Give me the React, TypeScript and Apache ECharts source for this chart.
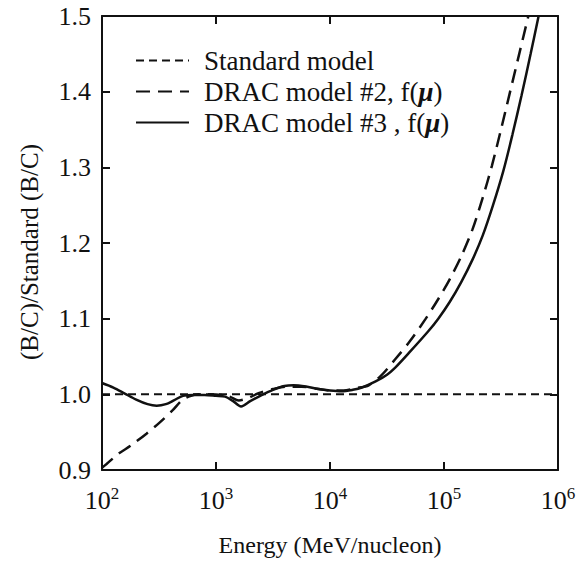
import React, { useEffect, useRef } from "react";
import * as echarts from "echarts";

// ---- data (x values are log10 of energy in MeV/nucleon) ----
const xTickExponents = [2, 3, 4, 5, 6];
const yTickLabels = ["0.9", "1.0", "1.1", "1.2", "1.3", "1.4", "1.5"];

const seriesNames = ["Standard model", "DRAC model #2, f(μ)", "DRAC model #3 , f(μ)"];

const standardLogE = [2, 6];
const standardRatio = [1.0, 1.0];

const drac2LogE = [
  2.0, 2.04, 2.15, 2.25, 2.39, 2.5, 2.62, 2.7, 2.76, 2.85, 2.95, 3.05, 3.12, 3.2, 3.28, 3.38,
  3.5, 3.62, 3.75, 3.9, 4.0, 4.12, 4.22, 4.34, 4.45, 4.57, 4.7, 4.84, 4.95, 5.05, 5.15, 5.25,
  5.34, 5.42, 5.5, 5.58, 5.66, 5.74,
];
const drac2Ratio = [
  0.903, 0.908, 0.922, 0.932, 0.948, 0.962, 0.979, 0.992, 0.997, 1.0, 1.0, 0.999, 0.997, 0.992,
  0.995, 1.002, 1.007, 1.01, 1.01, 1.007, 1.005, 1.005, 1.008, 1.012, 1.025, 1.046, 1.07, 1.1,
  1.126, 1.152, 1.182, 1.218, 1.26, 1.302, 1.35, 1.4, 1.45, 1.5,
];

const drac3LogE = [
  2.0, 2.1, 2.2, 2.3, 2.4, 2.48, 2.56, 2.63, 2.71, 2.8, 2.9, 3.0, 3.08, 3.15, 3.22, 3.3, 3.4,
  3.5, 3.6, 3.68, 3.8, 3.9, 4.0, 4.1, 4.2, 4.28, 4.4, 4.5, 4.57, 4.7, 4.86, 4.95, 5.05, 5.15,
  5.25, 5.34, 5.43, 5.52, 5.6, 5.68, 5.76, 5.83,
];
const drac3Ratio = [
  1.015, 1.009, 1.001, 0.993, 0.987, 0.985, 0.987, 0.992, 0.998, 0.999, 0.999, 0.998, 0.997,
  0.991, 0.984, 0.991, 0.999, 1.006, 1.011, 1.012, 1.01, 1.007, 1.005, 1.004, 1.006, 1.009,
  1.017, 1.026, 1.035, 1.056, 1.083, 1.1, 1.122, 1.148, 1.178, 1.21, 1.25, 1.295, 1.343, 1.395,
  1.45, 1.5,
];

const FONT = "'Liberation Serif', 'Times New Roman', serif";
const INK = "#111";

const toPoints = (xs: number[], ys: number[]) => xs.map((v, i) => [Math.pow(10, v), ys[i]]);

export default function App() {
  const ref = useRef<HTMLDivElement>(null);

  useEffect(() => {
    document.body.style.margin = "0";
    if (!ref.current) return;
    const chart = echarts.init(ref.current, null, { renderer: "svg" });

    const xBase = {
      type: "log" as const,
      logBase: 10,
      min: 100,
      max: 1000000,
      splitNumber: 4,
      splitLine: { show: false },
      minorTick: { show: false },
      axisLine: { show: true, onZero: false, lineStyle: { color: INK, width: 2 } },
      axisTick: { show: true, inside: true, length: 8, lineStyle: { color: INK, width: 2 } },
    };
    const yBase = {
      type: "value" as const,
      min: 0.9,
      max: 1.5,
      interval: 0.1,
      splitLine: { show: false },
      axisLine: { show: true, onZero: false, lineStyle: { color: INK, width: 2 } },
      axisTick: { show: true, inside: true, length: 8, lineStyle: { color: INK, width: 2 } },
    };

    chart.setOption({
      animation: false,
      backgroundColor: "#fff",
      grid: { left: 102, right: 23, top: 16, bottom: 89, containLabel: false },
      xAxis: [
        {
          ...xBase,
          position: "bottom",
          name: "Energy (MeV/nucleon)",
          nameLocation: "middle",
          nameGap: 63,
          nameTextStyle: { fontFamily: FONT, fontSize: 24, color: INK },
          axisLabel: {
            margin: 15,
            formatter: (_v: number, i: number) => `{b|10}{s|${xTickExponents[i]}}`,
            rich: {
              b: { fontFamily: FONT, fontSize: 26, color: INK, lineHeight: 28, verticalAlign: "bottom" },
              s: { fontFamily: FONT, fontSize: 17, color: INK, lineHeight: 16, verticalAlign: "top" },
            },
          },
        },
        { ...xBase, position: "top", axisLabel: { show: false } },
      ],
      yAxis: [
        {
          ...yBase,
          position: "left",
          name: "(B/C)/Standard (B/C)",
          nameLocation: "middle",
          nameGap: 60,
          nameTextStyle: { fontFamily: FONT, fontSize: 25, color: INK, padding: [0, 18, 0, 0] },
          axisLabel: {
            margin: 11,
            fontFamily: FONT,
            fontSize: 26,
            color: INK,
            formatter: (_v: number, i: number) => yTickLabels[i],
          },
        },
        { ...yBase, position: "right", axisLabel: { show: false } },
      ],
      legend: {
        orient: "vertical",
        left: 130,
        top: 42,
        itemWidth: 53,
        itemHeight: 14,
        itemGap: 4,
        data: seriesNames,
        itemStyle: { opacity: 0 },
        formatter: (name: string) =>
          name.includes("μ") ? `{a|${name.replace("μ)", "")}}{m|μ}{a|)}` : `{a|${name}}`,
        textStyle: {
          padding: [0, 0, 0, 10],
          rich: {
            a: { fontFamily: FONT, fontSize: 27, color: INK, lineHeight: 29.5 },
            m: { fontFamily: FONT, fontSize: 27, color: INK, lineHeight: 29.5, fontStyle: "italic", fontWeight: "bold" },
          },
        },
      },
      series: [
        {
          name: seriesNames[0],
          type: "line",
          symbol: "none",
          color: INK,
          data: toPoints(standardLogE, standardRatio),
          lineStyle: { color: INK, width: 2, type: [8, 5] },
        },
        {
          name: seriesNames[1],
          type: "line",
          symbol: "none",
          color: INK,
          smooth: 0.3,
          data: toPoints(drac2LogE, drac2Ratio),
          lineStyle: { color: INK, width: 2.5, type: [14, 8] },
        },
        {
          name: seriesNames[2],
          type: "line",
          symbol: "none",
          color: INK,
          smooth: 0.3,
          data: toPoints(drac3LogE, drac3Ratio),
          lineStyle: { color: INK, width: 2.5, type: "solid" },
        },
      ],
    });

    return () => chart.dispose();
  }, []);

  return <div ref={ref} style={{ width: 581, height: 562 }} />;
}
